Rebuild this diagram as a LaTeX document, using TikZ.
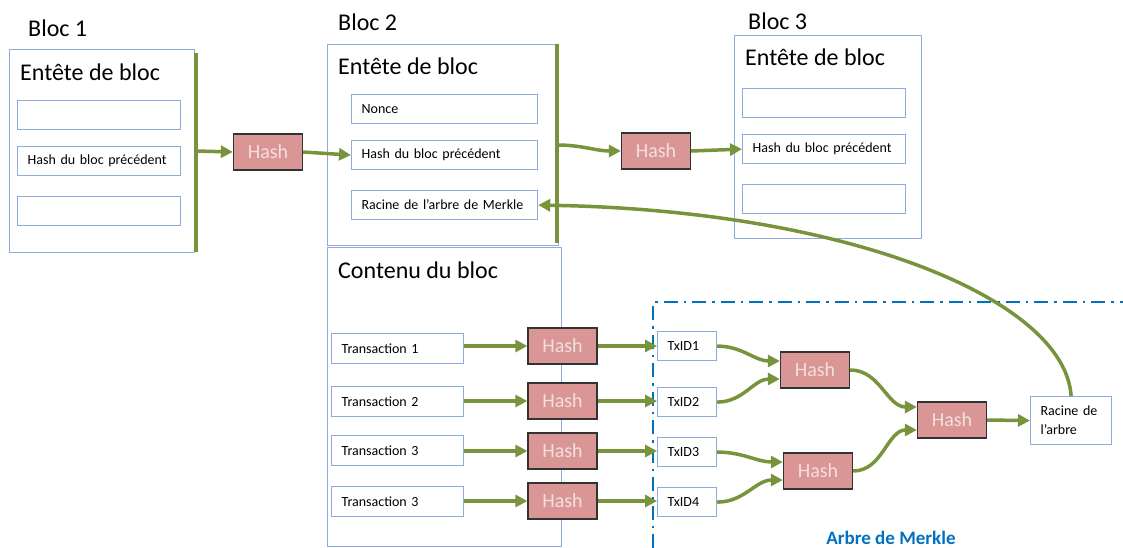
\documentclass[tikz,border=0pt]{standalone}
\usepackage{fontspec}
\setmainfont{Carlito}
\usetikzlibrary{arrows.meta}
\definecolor{boxblue}{RGB}{143,170,220}
\definecolor{grn}{RGB}{119,147,60}
\definecolor{hashfill}{RGB}{217,150,148}
\definecolor{hashtext}{RGB}{242,224,222}
\definecolor{merkleblue}{RGB}{0,112,192}
\begin{document}
\begin{tikzpicture}[x=1pt,y=-1pt,
 outer/.style={draw=boxblue,line width=1.2pt,inner sep=0pt,anchor=north west},
 field/.style={draw=boxblue,line width=1.2pt,anchor=north west,inner xsep=10pt,inner ysep=0pt,align=left,font=\fontsize{14}{19}\selectfont},
 hashbox/.style={draw=black!80,fill=hashfill,line width=1.3pt,minimum width=69pt,minimum height=36pt,inner sep=0pt,text=hashtext,font=\fontsize{20}{22}\selectfont},
 title/.style={anchor=west,inner sep=0pt,font=\fontsize{24}{26}\selectfont},
 link/.style={draw=grn,line width=3.5pt,-{Triangle[length=12pt,width=12pt]}},
 bar/.style={draw=grn,line width=3.5pt}
]
\useasboundingbox (0,0) rectangle (1123,548);

% ---------- Bloc 1 ----------
\node[title] (lb1) at (28,28) {Bloc 1};
\node[outer,minimum width=185pt,minimum height=203pt] (b1) at (9,49) {};
\node[title] (t1) at (20,72) {Entête de bloc};
\node[field,text width=143pt,minimum height=29pt] (b1f1) at (17,100) {};
\node[field,text width=143pt,minimum height=29pt] (b1f2) at (17,146) {Hash du bloc précédent};
\node[field,text width=143pt,minimum height=29pt] (b1f3) at (17,196) {};
\coordinate (g1t) at (196,53);
\coordinate (g1b) at (196,252);
\coordinate (g1m) at (196,151);
\draw[bar] (g1t) -- (g1b);
\node[hashbox] (h1) at (268,152) {Hash};

% ---------- Bloc 2 ----------
\node[title] (lb2) at (338,22) {Bloc 2};
\node[outer,minimum width=231pt,minimum height=201pt] (b2) at (327,44) {};
\node[title] (t2) at (338,66) {Entête de bloc};
\node[field,text width=166pt,minimum height=29pt] (b2f1) at (351,94) {Nonce};
\node[field,text width=166pt,minimum height=29pt] (b2f2) at (351,140) {Hash du bloc précédent};
\node[field,text width=166pt,minimum height=29pt] (b2f3) at (351,190) {Racine de l’arbre de Merkle};
\coordinate (g2t) at (557,44);
\coordinate (g2b) at (557,243);
\coordinate (g2m) at (557,145);
\draw[bar] (g2t) -- (g2b);
\node[hashbox] (h2) at (656,151) {Hash};

\node[outer,minimum width=234pt,minimum height=299pt] (b2c) at (327,247) {};
\node[title] (t2c) at (338,270) {Contenu du bloc};
\node[field,text width=112pt,minimum height=30pt] (tr1) at (331,333) {Transaction 1};
\node[field,text width=112pt,minimum height=30pt] (tr2) at (331,386) {Transaction 2};
\node[field,text width=112pt,minimum height=30pt] (tr3) at (331,435) {Transaction 3};
\node[field,text width=112pt,minimum height=30pt] (tr4) at (331,486) {Transaction 3};
\node[hashbox] (th1) at (562.5,346) {Hash};
\node[hashbox] (th2) at (562.5,401) {Hash};
\node[hashbox] (th3) at (562.5,451) {Hash};
\node[hashbox] (th4) at (562.5,501) {Hash};

% ---------- Bloc 3 ----------
\node[title] (lb3) at (748,21) {Bloc 3};
\node[outer,minimum width=187pt,minimum height=203pt] (b3) at (734,35) {};
\node[title] (t3) at (745,57) {Entête de bloc};
\node[field,text width=143pt,minimum height=29pt] (b3f1) at (742,88) {};
\node[field,text width=143pt,minimum height=29pt] (b3f2) at (742,134) {Hash du bloc précédent};
\node[field,text width=143pt,minimum height=29pt] (b3f3) at (742,184) {};

% ---------- Merkle ----------
\draw[merkleblue,line width=2.5pt,dash pattern=on 14pt off 6pt on 2.5pt off 6pt] (653,548) -- (653,302) -- (1123,302);
\node[anchor=center,inner sep=0pt,text=merkleblue,font=\fontsize{19}{21}\selectfont\bfseries] (lm) at (891,538) {Arbre de Merkle};
\node[field,text width=39pt,minimum height=29pt] (x1) at (657,331) {TxID1};
\node[field,text width=39pt,minimum height=29pt] (x2) at (657,387) {TxID2};
\node[field,text width=39pt,minimum height=29pt] (x3) at (657,437) {TxID3};
\node[field,text width=39pt,minimum height=29pt] (x4) at (657,487) {TxID4};
\node[hashbox] (ma) at (815,370) {Hash};
\node[hashbox] (mb) at (818,471) {Hash};
\node[hashbox] (mr) at (952,420) {Hash};
\node[field,text width=61pt,minimum height=48pt] (rac) at (1030,396) {Racine de\\l’arbre};

% ---------- connectors ----------
\draw[link] (g1m) -- (h1.west);
\draw[link] (h1.east) -- (b2f2.west);
\draw[link] (g2m) to[out=0,in=180] (h2.west);
\draw[link] (h2.east) -- (b3f2.west);
\foreach \i in {1,2,3,4}{
  \draw[link] (tr\i.east |- th\i.west) -- (th\i.west);
  \draw[link] (th\i.east) -- (th\i.east -| x\i.west);
}
\draw[link] (x1.east) to[out=0,in=180] ([yshift=9pt]ma.west);
\draw[link] (x2.east) to[out=0,in=180] ([yshift=-9pt]ma.west);
\draw[link] (x3.east) to[out=0,in=180] ([yshift=9pt]mb.west);
\draw[link] (x4.east) to[out=0,in=180] ([yshift=-9pt]mb.west);
\draw[link] (ma.east) to[out=0,in=180] ([yshift=13pt]mr.west);
\draw[link] (mb.east) to[out=0,in=180] ([yshift=-10pt]mr.west);
\draw[link] (mr.east) -- (rac.west);
\draw[link] (rac.north) .. controls (1065,300) and (850,210) .. (b2f3.east);
\end{tikzpicture}
\end{document}
